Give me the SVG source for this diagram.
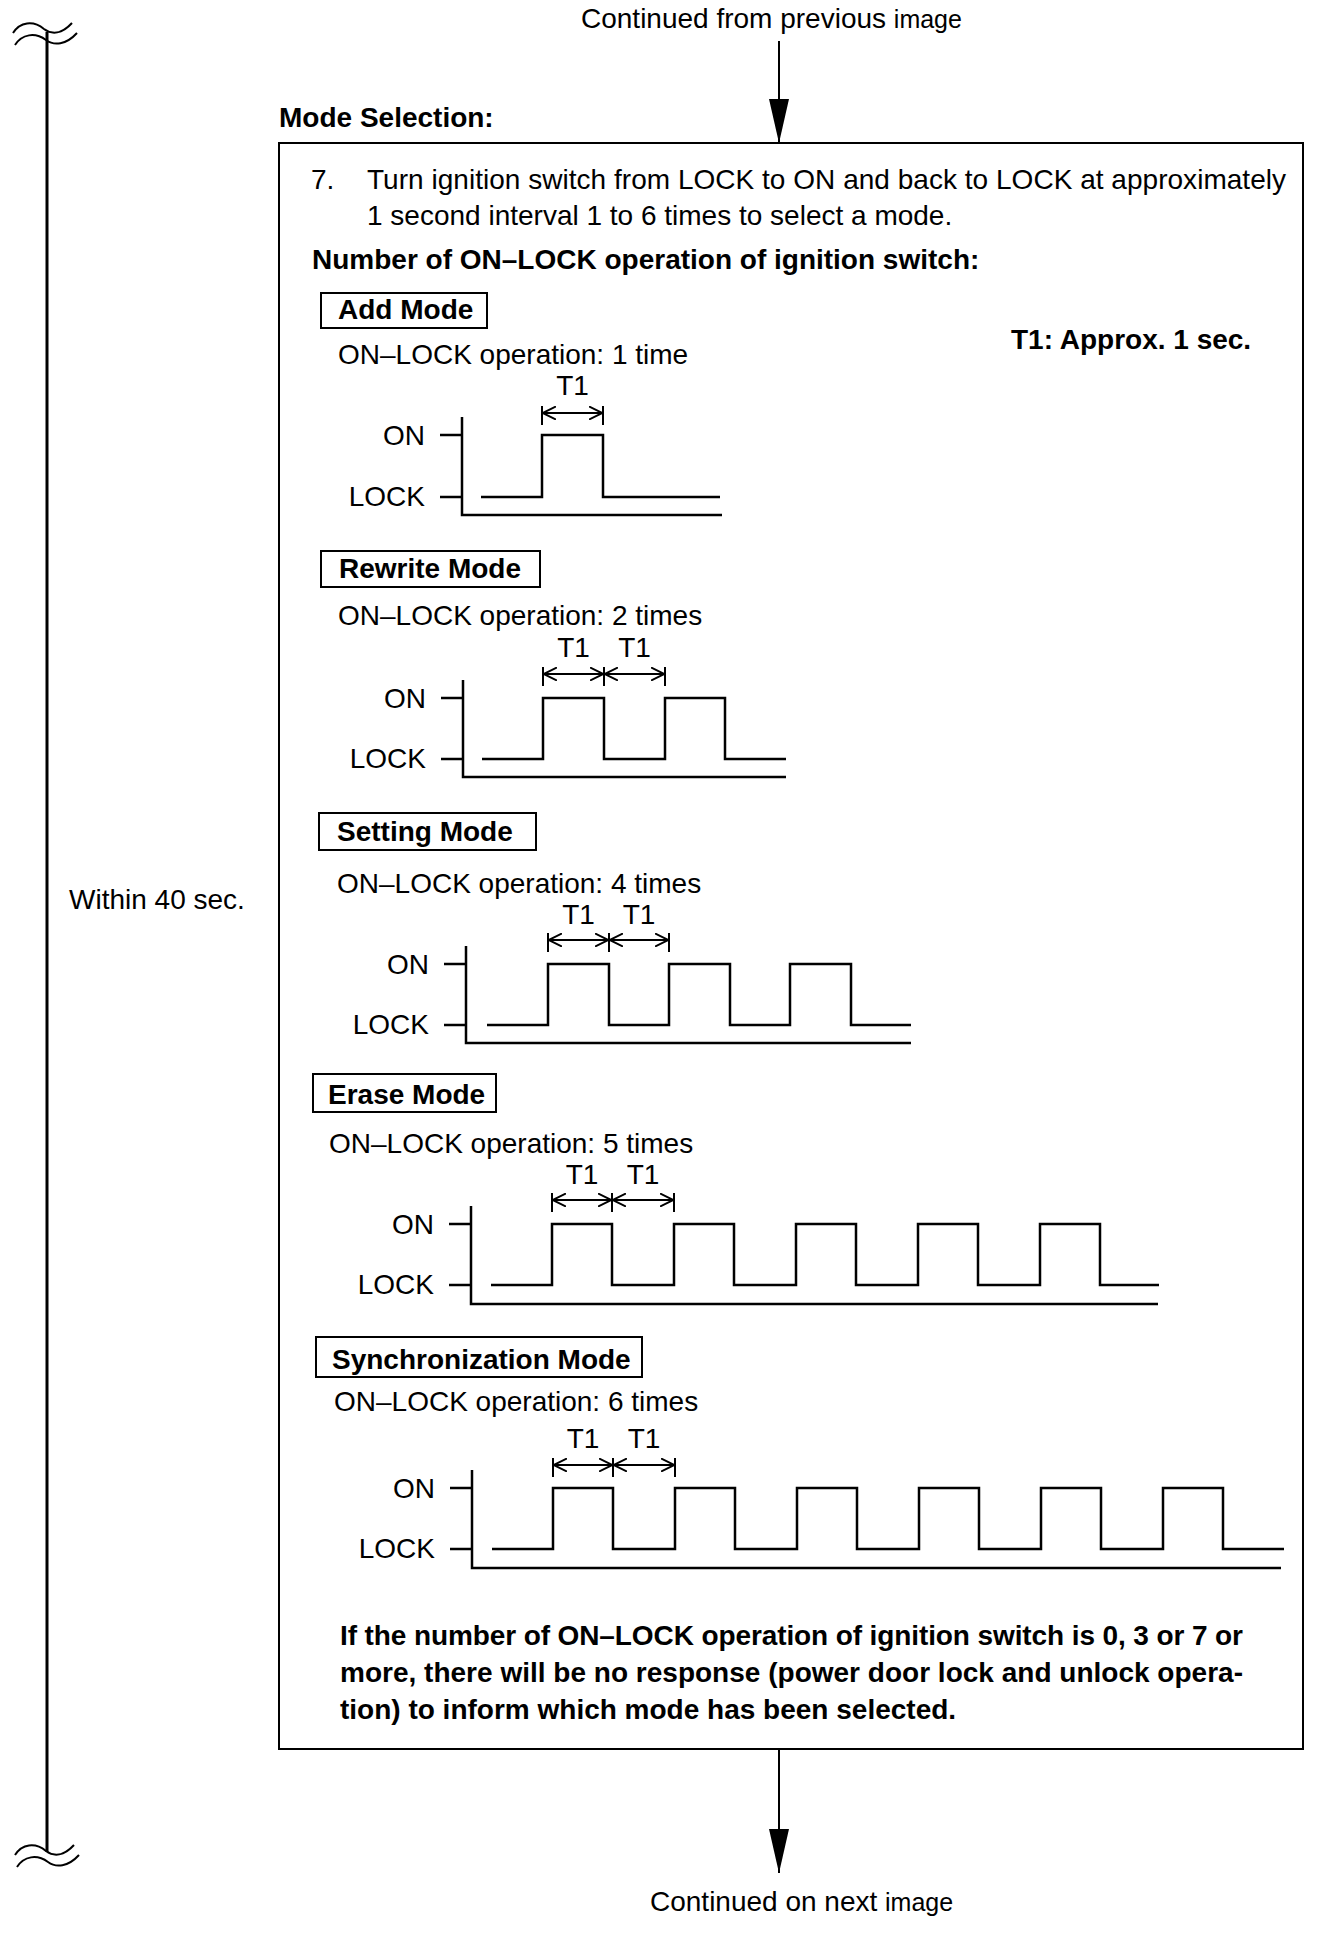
<svg xmlns="http://www.w3.org/2000/svg" width="1344" height="1934" viewBox="0 0 1344 1934">
<style>
text{font-family:"Liberation Sans",Arial,sans-serif;font-size:28px;fill:#000}
.b{font-weight:bold}
.sm{font-size:25px}
.box{fill:none;stroke:#000;stroke-width:2}
.ln{fill:none;stroke:#000;stroke-width:2.5}
.dim{fill:none;stroke:#000;stroke-width:2}
.dima{fill:none;stroke:#000;stroke-width:2;marker-start:url(#oa);marker-end:url(#oa)}
.wave{fill:none;stroke:#000;stroke-width:2}
</style>
<defs>
<marker id="oa" viewBox="0 0 14 14" refX="14" refY="7" markerWidth="14" markerHeight="14" markerUnits="userSpaceOnUse" orient="auto-start-reverse">
<path d="M0,0.5 L13.5,7 L0,13.5" fill="none" stroke="#000" stroke-width="2"/>
</marker>
<marker id="fa" viewBox="0 0 44 20" refX="44" refY="10" markerWidth="44" markerHeight="20" markerUnits="userSpaceOnUse" orient="auto">
<path d="M0,0 L44,10 L0,20 Z" fill="#000"/>
</marker>
</defs>
<rect width="1344" height="1934" fill="#fff"/>

<g id="time-span">
<path class="wave" d="M13,33 C20,22 33,20 44,29 C52,35 62,34 72,23"/>
<path class="wave" d="M15,45 C22,34 35,32 46,40 C54,46 66,45 77,33"/>
<line x1="47" y1="32" x2="47" y2="1852" stroke="#000" stroke-width="3"/>
<path class="wave" d="M15,1855 C22,1844 35,1842 46,1851 C54,1857 64,1856 74,1845"/>
<path class="wave" d="M17,1867 C24,1856 37,1854 48,1862 C56,1868 68,1867 79,1855"/>
<text x="69" y="909">Within 40 sec.</text>
</g>

<g id="continued-from">
<text x="581" y="28">Continued from previous <tspan class="sm">image</tspan></text>
</g>

<g id="title">
<text class="b" x="279" y="127">Mode Selection:</text>
</g>

<g id="mode-selection-box">
<rect class="box" x="279" y="143" width="1024" height="1606"/>
<text x="311" y="189">7.</text>
<text x="367" y="189" textLength="919" lengthAdjust="spacing">Turn ignition switch from LOCK to ON and back to LOCK at approximately</text>
<text x="367" y="225">1 second interval 1 to 6 times to select a mode.</text>
<text class="b" x="312" y="269">Number of ON–LOCK operation of ignition switch:</text>
<text class="b" x="1011" y="349">T1: Approx. 1 sec.</text>
<text class="b" x="340" y="1645" textLength="903" lengthAdjust="spacing">If the number of ON–LOCK operation of ignition switch is 0, 3 or 7 or</text>
<text class="b" x="340" y="1682" textLength="903" lengthAdjust="spacing">more, there will be no response (power door lock and unlock opera-</text>
<text class="b" x="340" y="1719">tion) to inform which mode has been selected.</text>
</g>

<g id="add-mode">
<rect class="box" x="321" y="293" width="166" height="35"/>
<text class="b" x="338" y="319">Add Mode</text>
<text x="338" y="364">ON–LOCK operation: 1 time</text>
<text x="572.5" y="395" text-anchor="middle">T1</text>
<path class="dim" d="M542,406 V425 M603,406 V425"/>
<path class="dima" d="M542,413 H603"/>
<text x="425" y="445" text-anchor="end">ON</text>
<text x="425" y="506" text-anchor="end">LOCK</text>
<path class="ln" d="M440,435 H462 M440,497 H462 M462,417 V515 H722"/>
<path class="ln" d="M481,497 H542 V435 H603 V497 H720"/>
</g>

<g id="rewrite-mode">
<rect class="box" x="321" y="551" width="219" height="36"/>
<text class="b" x="339" y="578">Rewrite Mode</text>
<text x="338" y="625">ON–LOCK operation: 2 times</text>
<text x="573.5" y="657" text-anchor="middle">T1</text>
<text x="634.5" y="657" text-anchor="middle">T1</text>
<path class="dim" d="M543,667 V686 M604,667 V686 M665,667 V686"/>
<path class="dima" d="M543,674 H604"/>
<path class="dima" d="M604,674 H665"/>
<text x="426" y="708" text-anchor="end">ON</text>
<text x="426" y="768" text-anchor="end">LOCK</text>
<path class="ln" d="M441,698 H463 M441,759 H463 M463,680 V777 H786"/>
<path class="ln" d="M482,759 H543 V698 H604 V759 H665 V698 H725 V759 H786"/>
</g>

<g id="setting-mode">
<rect class="box" x="319" y="813" width="217" height="37"/>
<text class="b" x="337" y="841">Setting Mode</text>
<text x="337" y="893">ON–LOCK operation: 4 times</text>
<text x="578.5" y="924" text-anchor="middle">T1</text>
<text x="639" y="924" text-anchor="middle">T1</text>
<path class="dim" d="M548,933 V952 M609,933 V952 M669,933 V952"/>
<path class="dima" d="M548,940 H609"/>
<path class="dima" d="M609,940 H669"/>
<text x="429" y="974" text-anchor="end">ON</text>
<text x="429" y="1034" text-anchor="end">LOCK</text>
<path class="ln" d="M444,964 H466 M444,1025 H466 M466,946 V1043 H911"/>
<path class="ln" d="M487,1025 H548 V964 H609 V1025 H669 V964 H730 V1025 H790 V964 H851 V1025 H911"/>
</g>

<g id="erase-mode">
<rect class="box" x="313" y="1074" width="183" height="38"/>
<text class="b" x="328" y="1104">Erase Mode</text>
<text x="329" y="1153">ON–LOCK operation: 5 times</text>
<text x="582" y="1184" text-anchor="middle">T1</text>
<text x="643" y="1184" text-anchor="middle">T1</text>
<path class="dim" d="M552,1193 V1212 M612,1193 V1212 M674,1193 V1212"/>
<path class="dima" d="M552,1200 H612"/>
<path class="dima" d="M612,1200 H674"/>
<text x="434" y="1234" text-anchor="end">ON</text>
<text x="434" y="1294" text-anchor="end">LOCK</text>
<path class="ln" d="M449,1224 H471 M449,1285 H471 M471,1206 V1304 H1158"/>
<path class="ln" d="M491,1285 H552 V1224 H612 V1285 H674 V1224 H734 V1285 H796 V1224 H856 V1285 H918 V1224 H978 V1285 H1040 V1224 H1100 V1285 H1159"/>
</g>

<g id="synchronization-mode">
<rect class="box" x="316" y="1337" width="326" height="40"/>
<text class="b" x="332" y="1369">Synchronization Mode</text>
<text x="334" y="1411">ON–LOCK operation: 6 times</text>
<text x="583" y="1448" text-anchor="middle">T1</text>
<text x="644" y="1448" text-anchor="middle">T1</text>
<path class="dim" d="M553,1458 V1477 M613,1458 V1477 M675,1458 V1477"/>
<path class="dima" d="M553,1465 H613"/>
<path class="dima" d="M613,1465 H675"/>
<text x="435" y="1498" text-anchor="end">ON</text>
<text x="435" y="1558" text-anchor="end">LOCK</text>
<path class="ln" d="M450,1488 H472 M450,1549 H472 M472,1470 V1568 H1281"/>
<path class="ln" d="M492,1549 H553 V1488 H613 V1549 H675 V1488 H735 V1549 H797 V1488 H857 V1549 H919 V1488 H979 V1549 H1041 V1488 H1101 V1549 H1163 V1488 H1223 V1549 H1284"/>
</g>

<g id="continued-next">
<text x="650" y="1911">Continued on next <tspan class="sm">image</tspan></text>
</g>

<g id="connectors">
<line x1="779" y1="41" x2="779" y2="143" stroke="#000" stroke-width="2" marker-end="url(#fa)"/>
<line x1="779" y1="1749" x2="779" y2="1873" stroke="#000" stroke-width="2" marker-end="url(#fa)"/>
</g>
</svg>
